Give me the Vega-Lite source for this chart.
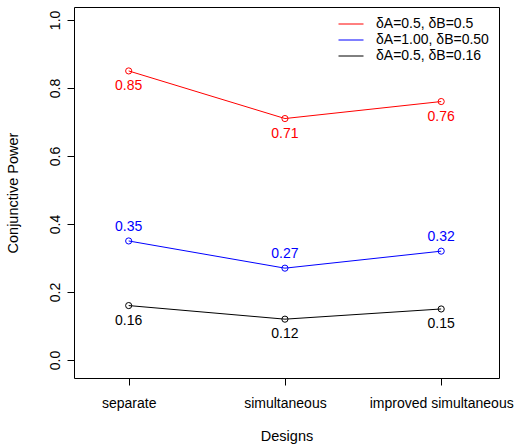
{
  "$schema": "https://vega.github.io/schema/vega-lite/v6.json",
  "width": 425,
  "height": 371,
  "autosize": {"type": "none"},
  "padding": {"left": 74, "top": 7, "right": 18, "bottom": 66},
  "background": "white",
  "config": {
    "font": "Liberation Sans",
    "view": {"stroke": "black", "strokeWidth": 1},
    "axis": {"grid": false, "domain": false, "tickColor": "black", "tickSize": 7, "labelColor": "black", "titleColor": "black", "labelFontSize": 14, "titleFontSize": 14.5, "titleFontWeight": "normal", "labelFont": "Liberation Sans", "titleFont": "Liberation Sans"}
  },
  "data": {
    "values": [
      {"design": 1, "power": 0.85, "series": "δA=0.5, δB=0.5"},
      {"design": 2, "power": 0.71, "series": "δA=0.5, δB=0.5"},
      {"design": 3, "power": 0.76, "series": "δA=0.5, δB=0.5"},
      {"design": 1, "power": 0.35, "series": "δA=1.00, δB=0.50"},
      {"design": 2, "power": 0.27, "series": "δA=1.00, δB=0.50"},
      {"design": 3, "power": 0.32, "series": "δA=1.00, δB=0.50"},
      {"design": 1, "power": 0.16, "series": "δA=0.5, δB=0.16"},
      {"design": 2, "power": 0.12, "series": "δA=0.5, δB=0.16"},
      {"design": 3, "power": 0.15, "series": "δA=0.5, δB=0.16"}
    ]
  },
  "encoding": {
    "x": {"field": "design", "type": "quantitative",
      "scale": {"domain": [0.65, 3.37], "nice": false, "zero": false},
      "axis": {"values": [1, 2, 3], "title": "Designs", "labelPadding": 11, "titlePadding": 19,
        "labelExpr": "datum.value == 1 ? 'separate' : datum.value == 2 ? 'simultaneous' : 'improved simultaneous'"}},
    "y": {"field": "power", "type": "quantitative",
      "scale": {"domain": [-0.053, 1.038], "nice": false, "zero": false},
      "axis": {"values": [0, 0.2, 0.4, 0.6, 0.8, 1.0], "format": ".1f", "title": "Conjunctive Power",
        "labelAngle": 270, "labelAlign": "center", "labelBaseline": "bottom", "labelPadding": 5, "titlePadding": 28}},
    "color": {"field": "series", "type": "nominal",
      "scale": {"domain": ["δA=0.5, δB=0.5", "δA=1.00, δB=0.50", "δA=0.5, δB=0.16"], "range": ["#FF0000", "#0000FF", "#000000"]},
      "legend": {"title": null, "orient": "none", "legendX": 270, "legendY": 10, "symbolType": "M-2.5,0H2.5", "symbolSize": 100, "symbolStrokeWidth": 1, "symbolFillColor": "transparent", "labelFontSize": 14, "labelFont": "Liberation Sans", "labelColor": "black", "labelOffset": 18, "rowPadding": 2, "symbolOpacity": 1}}
  },
  "layer": [
    {"mark": {"type": "line", "strokeWidth": 1}},
    {"mark": {"type": "point", "shape": "circle", "filled": false, "size": 38, "strokeWidth": 1, "opacity": 1}},
    {"transform": [{"filter": "datum.series != 'δA=1.00, δB=0.50'"}],
      "mark": {"type": "text", "dy": 15, "fontSize": 14, "font": "Liberation Sans"},
      "encoding": {"text": {"field": "power", "type": "quantitative", "format": ".2f"}}},
    {"transform": [{"filter": "datum.series == 'δA=1.00, δB=0.50'"}],
      "mark": {"type": "text", "dy": -14, "fontSize": 14, "font": "Liberation Sans"},
      "encoding": {"text": {"field": "power", "type": "quantitative", "format": ".2f"}}}
  ]
}
